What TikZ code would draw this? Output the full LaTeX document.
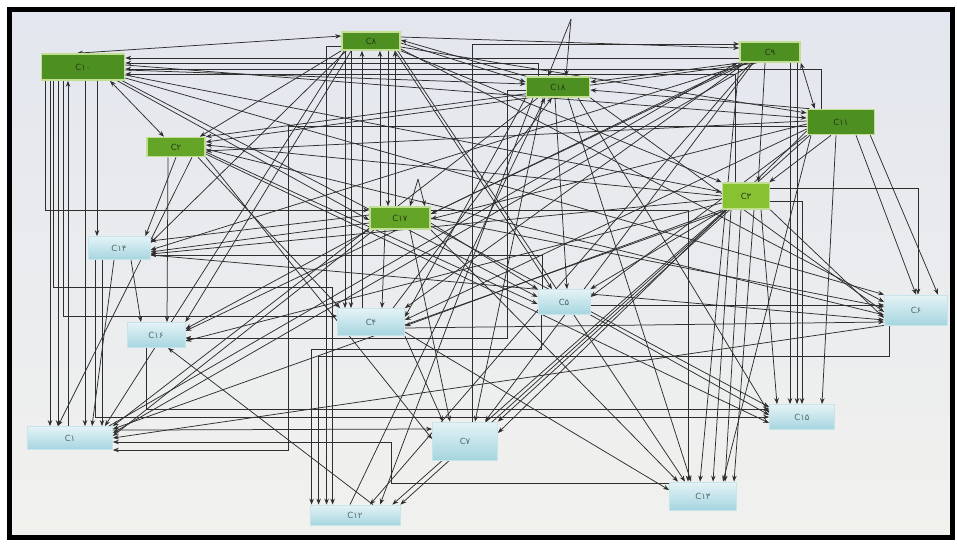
\documentclass[tikz,border=0pt]{standalone}
\usepackage{fontspec}
\newfontfamily\lab{DejaVu Sans}
\usetikzlibrary{arrows.meta,calc,backgrounds}
\definecolor{bgtop}{HTML}{E3E6EE}
\definecolor{bgbot}{HTML}{F1F1EE}
\definecolor{gA}{HTML}{4E8F22}
\definecolor{gB}{HTML}{64A528}
\definecolor{gC}{HTML}{86C232}
\definecolor{gEdge}{HTML}{C2DE92}
\definecolor{bTop}{HTML}{E4F3F6}
\definecolor{bBot}{HTML}{A6D5DF}
\definecolor{bEdge}{HTML}{C6E4EA}
\definecolor{ln}{HTML}{2E2E2E}
\definecolor{txG}{HTML}{24381A}
\definecolor{txB}{HTML}{52666C}
\tikzset{
  nbase/.style={rectangle, inner sep=0pt, font=\lab\fontsize{8.5}{10}\selectfont},
  g1/.style={nbase, fill=gA, draw=gEdge, line width=1.6pt, text=txG},
  g2/.style={nbase, fill=gB, draw=gEdge, line width=1.6pt, text=txG},
  g3/.style={nbase, fill=gC, draw=gEdge, line width=1.6pt, text=txG},
  bn/.style={nbase, top color=bTop, bottom color=bBot, draw=bEdge, line width=0.8pt, text=txB},
  e/.style={draw=ln, line width=0.75pt, -{Stealth[length=6pt,width=4.5pt]}},
  ee/.style={draw=ln, line width=0.75pt, {Stealth[length=6pt,width=4.5pt]}-{Stealth[length=6pt,width=4.5pt]}}
}
\begin{document}
\begin{tikzpicture}[x=1pt,y=-1pt]
\useasboundingbox (0,0) rectangle (957,543);
% nodes
\node[g1,minimum width=83pt,minimum height=26pt] (C10) at (83,67) {C۱۰};
\node[g1,minimum width=58pt,minimum height=18pt] (C8) at (371,41) {C۸};
\node[g1,minimum width=60pt,minimum height=20pt] (C9) at (770,52) {C۹};
\node[g1,minimum width=63pt,minimum height=20pt] (C18) at (558,87) {C۱۸};
\node[g1,minimum width=67pt,minimum height=25pt] (C11) at (841,122) {C۱۱};
\node[g2,minimum width=58pt,minimum height=19pt] (C2) at (176,147) {C۲};
\node[g3,minimum width=47pt,minimum height=26pt] (C3) at (746,196) {C۳};
\node[g2,minimum width=60pt,minimum height=22pt] (C17) at (400,218) {C۱۷};
\node[bn,minimum width=62pt,minimum height=23pt] (C14) at (119,248) {C۱۴};
\node[bn,minimum width=58pt,minimum height=25pt] (C16) at (156,335) {C۱۶};
\node[bn,minimum width=67pt,minimum height=27pt] (C4) at (371,322) {C۴};
\node[bn,minimum width=52pt,minimum height=25pt] (C5) at (564,302) {C۵};
\node[bn,minimum width=63pt,minimum height=30pt] (C6) at (916,310) {C۶};
\node[bn,minimum width=85pt,minimum height=23pt] (C1) at (70,438) {C۱};
\node[bn,minimum width=65pt,minimum height=38pt] (C7) at (465,441) {C۷};
\node[bn,minimum width=65pt,minimum height=25pt] (C15) at (802,417) {C۱۵};
\node[bn,minimum width=67pt,minimum height=28pt] (C13) at (703,496) {C۱۳};
\node[bn,minimum width=90pt,minimum height=20pt] (C12) at (355,515) {C۱۲};
\coordinate (L18) at ($(C18.north)+(13,-57)$);
\coordinate (L17) at ($(C17.north)+(18,-27)$);
\begin{scope}[on background layer]
\fill[top color=bgtop, bottom color=bgbot] (9,10) rectangle (952,537);
% ---- C10
\draw[ee] ([xshift=-6pt]C10.north) -- ([yshift=5pt]C8.west);
\draw[ee] ([xshift=27pt]C10.south) -- ([xshift=-12pt]C2.north);
\draw[e] ([xshift=-33pt]C10.south) -- ([xshift=-33pt]C10.south |- C1.north);
\draw[e] ([xshift=-25pt]C10.south) -- ([xshift=-25pt]C10.south |- C1.north);
\draw[e] ([xshift=-15pt]C10.south |- C1.north) -- ([xshift=-15pt]C10.south);
\draw[e] ([xshift=2pt]C10.south) -- ([xshift=2pt]C10.south |- C1.north);
\draw[e] ([xshift=14pt]C10.south) -- ([xshift=14pt]C10.south |- C14.north);
\draw[e] ([xshift=-38pt]C10.south) |- ([yshift=8pt]C17.west);
\draw[e] ([xshift=-30pt]C10.south) |- ($(C12.north west)+(23,-217)$) -- ([xshift=23pt]C12.north west);
\draw[e] ([xshift=-20pt]C10.south) |- ([yshift=6pt]C4.west);
\draw[e] ([xshift=-8pt]C10.south east) -- ([yshift=-2pt]C17.west);
\draw[e] ([yshift=-3pt]C10.east) -- ([yshift=3pt]C18.west);
\draw[e] ([yshift=2pt]C10.east) -- ([yshift=4pt]C11.west);
\draw[e] ([yshift=-8pt]C10.east) -- ([yshift=4pt]C3.west);
\draw[e] ([yshift=-11pt]C10.east) -- (C6.north west);
\draw[e] ([xshift=-3pt]C10.south east) -- ([yshift=5pt]C5.west);
\draw[e] ([yshift=-6pt]C9.west) -- ([yshift=9pt]C10.east);
\draw[e] ([xshift=-20pt]C11.north) |- ([yshift=-2pt]C10.east);
\draw[e] ([xshift=-11pt]C3.north) |- ([yshift=-7pt]C10.east);
\draw[e] ([xshift=-20pt]C18.north) |- ([yshift=4pt]C10.east);
\draw[e] ([xshift=7pt]C7.north) |- ([yshift=8pt]C9.west);
% ---- C8
\draw[e] ([yshift=4pt]C8.east) -- ([yshift=4pt]C9.west);
\draw[e] ([yshift=-2pt]C8.east) -- ([yshift=5pt]C18.west);
\draw[e] ([yshift=-6pt]C8.east) -- ([yshift=9pt]C11.west);
\draw[e] (C8.south east) -- (C3.north west);
\draw[e] ([xshift=17pt]C8.south) -- ([xshift=17pt]C8.south |- C17.north);
\draw[e] ([xshift=-9pt]C4.north) -- ([xshift=-9pt]C4.north |- C8.south);
\draw[e] ([xshift=-20pt]C17.north) -- ([xshift=-20pt]C17.north |- C8.south);
\draw[e] ([xshift=-5pt]C17.north) -- ([xshift=-5pt]C17.north |- C8.south);
\draw[e] ([xshift=-26pt]C8.south) -- ([xshift=-26pt]C8.south |- C4.north);
\draw[e] ([xshift=-20pt]C8.south) -- ([xshift=-20pt]C8.south |- C4.north);
\draw[e] ([yshift=-5pt]C8.west) -| ([xshift=17pt]C12.north west);
\draw[e] (C8.south west) -- ([xshift=-6pt]C2.north east);
\draw[e] ([xshift=5pt]C8.south west) -- ([yshift=5pt]C14.east);
\draw[e] ([xshift=10pt]C8.south west) -- (C16.north east);
\draw[e] ([xshift=3pt]C8.south west) -- ([xshift=-8pt]C1.north east);
\draw[e] ([xshift=-6pt]C8.south east) -- ([xshift=-12pt]C5.north);
\draw[e] ([xshift=-3pt]C8.south east) -- ([xshift=-18pt]C13.north);
\draw[e] ([yshift=-8pt]C8.east) -- ([yshift=8pt]C6.west);
\draw[e] (C18.north west) -- ([yshift=1pt]C8.east);
% ---- C9
\draw[ee] (C9.south east) -- ([xshift=8pt]C11.north west);
\draw[e] ([xshift=-5pt]C9.south) -- ([xshift=-12pt]C3.north east);
\draw[e] ([xshift=20pt]C9.south) -- ([xshift=20pt]C9.south |- C15.north);
\draw[e] ([xshift=27pt]C9.south) -- ([xshift=27pt]C9.south |- C15.north);
\draw[e] (C9.south west) -- ([xshift=-3pt]C13.north);
\draw[e] ([xshift=2pt]C9.south west) -- ([yshift=5pt]C18.east);
\draw[e] ([xshift=4pt]C9.south west) -- ([yshift=4pt]C17.east);
\draw[e] ([xshift=6pt]C9.south west) -- (C4.north east);
\draw[e] ([xshift=8pt]C9.south west) -- ([yshift=4pt]C16.east);
\draw[e] ([xshift=10pt]C9.south west) -- ([yshift=-2pt]C14.east);
\draw[e] ([xshift=12pt]C9.south west) -- ([xshift=15pt]C12.north);
\draw[e] ([xshift=14pt]C9.south west) -- ([xshift=20pt]C7.north);
\draw[e] ([xshift=16pt]C9.south west) -- ([yshift=5pt]C1.east);
\draw[e] ([xshift=18pt]C9.south west) -- (C2.north east);
\draw[e] ([xshift=-4pt]C1.north east) -- ([xshift=-2pt]C9.south west);
% ---- C18
\draw[e] (L18) -- ([xshift=-10pt]C18.north);
\draw[e] (L18) -- ([xshift=8pt]C18.north);
\draw[e] ([xshift=-25pt]C18.south) -- ([xshift=25pt]C12.north);
\draw[e] ([xshift=-15pt]C18.south) -- ([xshift=10pt]C7.north);
\draw[e] (C18.south west) -- ([yshift=5pt]C4.east);
\draw[e] ([xshift=-3pt]C18.south) -- ([xshift=3pt]C5.north);
\draw[e] ([xshift=10pt]C18.south) -- ([xshift=-12pt]C13.north);
\draw[e] ([xshift=20pt]C18.south) -- ([yshift=4pt]C15.west);
\draw[e] (C18.south east) -- ([yshift=-2pt]C6.west);
\draw[e] ([xshift=-20pt]C18.south) -- (C1.north east);
\draw[e] ([yshift=-3pt]C18.west) -| ($(C16.east)+(322,3)$) -- ($(C16.east)+(0,3)$);
\draw[e] ([xshift=3pt]C18.south west) -- ([yshift=5pt]C2.east);
\draw[e] ([xshift=3pt]C11.north west) -- ([yshift=-3pt]C18.east);
\draw[e] ([xshift=-5pt]C12.north) -- ([xshift=-13pt]C18.south);
\draw[e] ([xshift=22pt]C4.north) -- ([xshift=-6pt]C18.south);
% ---- C11
\draw[e] ([xshift=-10pt]C11.south) -- ([xshift=-1pt]C3.north east);
\draw[e] ([xshift=-5pt]C11.south east) -- ([xshift=22pt]C6.north);
\draw[e] ([xshift=15pt]C11.south) -- (C6.north);
\draw[e] ([xshift=-5pt]C11.south) -- ([xshift=20pt]C15.north);
\draw[e] ([xshift=-30pt]C11.south) -- ([xshift=20pt]C13.north);
\draw[e] (C11.south west) -- ([yshift=5pt]C5.east);
\draw[e] ($(C11.west)+(0,7)$) -- ([yshift=2pt]C4.east);
\draw[e] ($(C11.west)+(0,9)$) -- ([yshift=8pt]C7.east);
\draw[e] ([xshift=3pt]C11.south west) -- (C12.north east);
\draw[e] ($(C11.west)+(0,2)$) -- ([yshift=-1pt]C17.east);
\draw[e] ($(C11.west)+(0,-1)$) -- ([yshift=-4pt]C2.east);
\draw[e] ($(C11.west)+(0,4)$) -| ($(C1.east)+(175,12)$) -- ($(C1.east)+(0,12)$);
% ---- C3
\draw[e] ([yshift=8pt]C3.east) -| ([xshift=2pt]C6.north);
\draw[e] ([yshift=-5pt]C3.east) -| (C15.north);
\draw[e] ([xshift=15pt]C3.south) -- ([xshift=-25pt]C15.north);
\draw[e] ([xshift=-15pt]C3.south) -- ([xshift=10pt]C13.north);
\draw[e] ([xshift=-5pt]C3.south) -- ([xshift=22pt]C13.north);
\draw[e] ([xshift=8pt]C3.south) -- ([xshift=31pt]C13.north);
\draw[e] (C3.south west) -- ([yshift=-4pt]C4.east);
\draw[e] ([xshift=2pt]C3.south west) -- (C5.north east);
\draw[e] ([xshift=4pt]C3.south west) -- ([xshift=-8pt]C12.north east);
\draw[e] ([yshift=-3pt]C3.west) -- ([yshift=-6pt]C14.east);
\draw[e] ([yshift=-7pt]C3.west) -- ([yshift=-6pt]C16.east);
\draw[e] ([xshift=6pt]C3.south west) -- ([yshift=9pt]C1.east);
\draw[e] ([xshift=8pt]C3.south west) -- (C7.north east);
\draw[e] (C3.south east) -- ([yshift=-8pt]C6.west);
\draw[e] (C3.west) -- ([yshift=2pt]C2.east);
% ---- C2
\draw[e] (C2.south) -- ([xshift=-5pt]C14.north east);
\draw[e] ([xshift=16pt]C2.south) -- ([xshift=-12pt]C1.north);
\draw[e] ([xshift=-8pt]C2.south) -- ([xshift=11pt]C16.north);
\draw[e] ([xshift=22pt]C2.south) -- ([xshift=3pt]C4.north west);
\draw[e] (C2.south east) -- ([yshift=2pt]C7.west);
\draw[e] ([yshift=-7pt]C2.east) -- ([yshift=-6pt]C15.west);
\draw[e] ([yshift=-2pt]C2.east) -- ([yshift=-5pt]C6.west);
\draw[e] ([yshift=-5pt]C2.east) -- ([yshift=-2pt]C5.west);
% ---- C17
\draw[e] (L17) -- ([xshift=10pt]C17.north);
\draw[e] (L17) -- ([xshift=25pt]C17.north);
\draw[e] ([yshift=3pt]C17.west) -- ([yshift=7pt]C14.east);
\draw[e] ([yshift=-5pt]C17.west) -- ($(C14.east)+(0,4)$);
\draw[e] (C17.south west) -- ([yshift=6pt]C16.east);
\draw[e] ([xshift=5pt]C17.south west) -- ([yshift=2pt]C1.east);
\draw[e] ([xshift=-15pt]C17.south) -- ([xshift=11pt]C4.north);
\draw[e] ([xshift=10pt]C17.south) -- ([xshift=-15pt]C7.north);
\draw[e] ([yshift=-5pt]C17.east) -- (C5.north west);
\draw[e] (C17.east) -- ([yshift=3pt]C6.west);
\draw[e] ([yshift=-8pt]C17.east) -- ([yshift=10pt]C15.west);
\draw[e] (C17.south east) -- ([xshift=-25pt]C13.north);
\draw[e] ([yshift=8pt]C17.east) -| ([xshift=-15pt]C13.north);
% ---- lower nodes
\draw[e] ([xshift=18pt]C12.north) -- ([xshift=12pt]C16.south);
\draw[e] ([xshift=-17pt]C14.south) -- ([xshift=-17pt]C14.south |- C1.north);
\draw[e] ([xshift=-5pt]C14.south) -- ([xshift=22pt]C1.north);
\draw[e] ([xshift=12pt]C14.south) -- ([xshift=-15pt]C16.north);
\draw[e] ([xshift=-24pt]C14.south) |- (C15.west);
\draw[e] ([xshift=-10pt]C16.south) |- ($(C15.west)+(0,-8)$);
\draw[e] ([yshift=-3pt]C5.east) -- ([yshift=5pt]C6.west);
\draw[e] ([yshift=-6pt]C4.east) -- ([yshift=-12pt]C6.west);
\draw[e] (C5.south east) -- ([yshift=2pt]C15.west);
\draw[e] ($(C13.west)+(0,-13)$) -| ($(C1.east)+(278,4)$) -- ($(C1.east)+(0,4)$);
\draw[e] ([xshift=4pt]C5.south west) |- ($(C12.north west)+(2,-155)$) -- ([xshift=2pt]C12.north west);
\draw[e] ([xshift=5pt]C6.south west) |- ($(C12.north west)+(9,-148)$) -- ([xshift=9pt]C12.north west);
\draw[e] ([xshift=5pt]C5.north west) |- ($(C14.east)+(0,7)$);
\draw[e] (C6.south west) -- (C1.east);
\draw[e] ([yshift=-7pt]C14.east) -- ([yshift=-10pt]C6.west);
\draw[e] (C4.south east) -- ([xshift=-22pt]C7.north);
\draw[e] ($(C4.east)+(0,10)$) -- ([yshift=6pt]C13.west);
\draw[e] ($(C1.north east)+(0,4)$) -- ($(C7.west)+(0,-12)$);
\end{scope}
\draw[black, line width=5pt] (9,10) rectangle (952,537);
\end{tikzpicture}
\end{document}
